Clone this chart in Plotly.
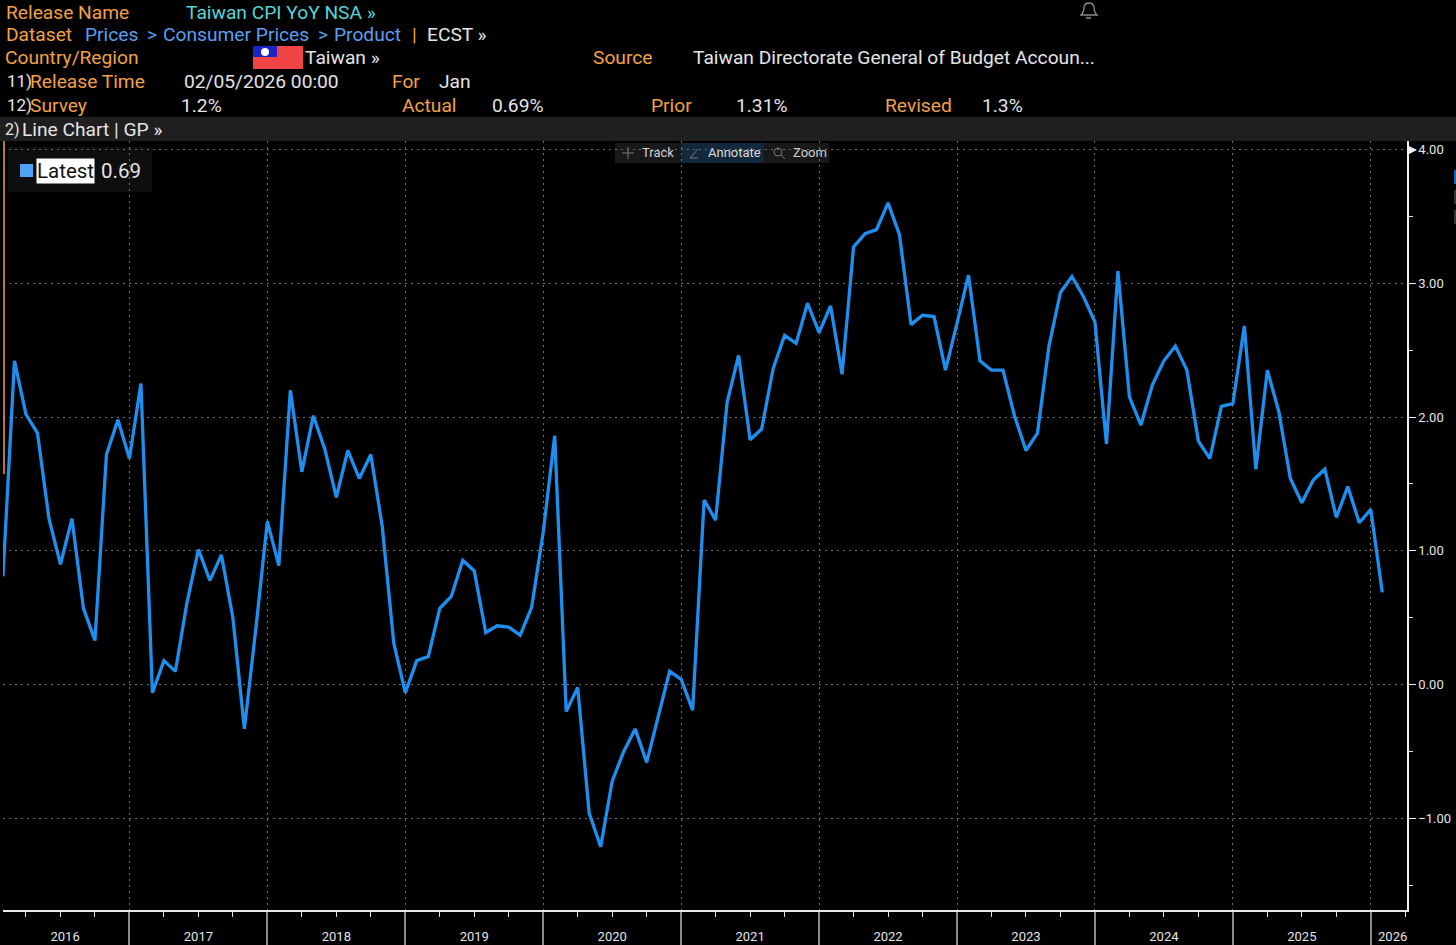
import plotly.graph_objects as go

W, H = 1456, 945
L, R, T, B = 3, 49, 141, 35

# Taiwan CPI YoY, monthly Jan 2016 - Jan 2026
cpi_2016 = [0.81, 2.42, 2.02, 1.88, 1.24, 0.90, 1.24, 0.57, 0.33, 1.72, 1.98, 1.69]
cpi_2017 = [2.25, -0.06, 0.18, 0.10, 0.61, 1.01, 0.78, 0.97, 0.50, -0.33, 0.42, 1.22]
cpi_2018 = [0.89, 2.20, 1.59, 2.01, 1.76, 1.40, 1.75, 1.54, 1.72, 1.18, 0.31, -0.06]
cpi_2019 = [0.18, 0.21, 0.57, 0.66, 0.93, 0.85, 0.39, 0.44, 0.43, 0.37, 0.58, 1.14]
cpi_2020 = [1.86, -0.20, -0.02, -0.96, -1.21, -0.72, -0.50, -0.33, -0.58, -0.24, 0.10, 0.04]
cpi_2021 = [-0.19, 1.38, 1.23, 2.11, 2.46, 1.83, 1.91, 2.36, 2.61, 2.55, 2.85, 2.63]
cpi_2022 = [2.83, 2.32, 3.27, 3.37, 3.40, 3.60, 3.36, 2.69, 2.76, 2.75, 2.35, 2.70]
cpi_2023 = [3.06, 2.42, 2.35, 2.35, 2.01, 1.75, 1.88, 2.53, 2.93, 3.05, 2.90, 2.71]
cpi_2024 = [1.80, 3.09, 2.15, 1.94, 2.24, 2.42, 2.53, 2.35, 1.82, 1.69, 2.08, 2.10]
cpi_2025 = [2.68, 1.61, 2.35, 2.04, 1.54, 1.36, 1.53, 1.61, 1.25, 1.48, 1.21, 1.31]
cpi_2026 = [0.69]
cpi = cpi_2016 + cpi_2017 + cpi_2018 + cpi_2019 + cpi_2020 + cpi_2021 + cpi_2022 + cpi_2023 + cpi_2024 + cpi_2025 + cpi_2026
months = list(range(len(cpi)))

year_labels = ["2016", "2017", "2018", "2019", "2020", "2021", "2022", "2023", "2024", "2025", "2026"]
year_centres = [5.4, 17, 29, 41, 53, 65, 77, 89, 101, 113, 120.9]
year_breaks = [11, 23, 35, 47, 59, 71, 83, 95, 107, 119]
quarter_ticks = [2, 5, 8, 14, 17, 20, 26, 29, 32, 38, 41, 44, 50, 53, 56, 62, 65, 68, 74, 77, 80,
                 86, 89, 92, 98, 101, 104, 110, 113, 116, 122]

ORANGE = "#f2a045"
WHITE = "#e4e4e4"
BLUE = "#5b9ff0"
TEAL = "#55d4d8"
LINE = "#1f8fef"
GRID = "#6e6e6e"
FONT = "Roboto"


def px(x):
    return (x - L) / (W - L - R)


def py(y):
    return 1 - (y - T) / (H - T - B)


def label(x, y, s, color=WHITE, size=19.2, **kw):
    # annotations sit about 2px right of the x given
    return dict(x=px(x - 2), y=py(y), xref="paper", yref="paper", text=s, showarrow=False, xanchor="left",
                yanchor="middle", font=dict(family=FONT, size=size, color=color), **kw)


def box(x0, y0, x1, y1, color):
    return dict(type="rect", xref="paper", yref="paper", x0=px(x0), y0=py(y0), x1=px(x1), y1=py(y1),
                fillcolor=color, line_width=0, layer="below")


def seg(x0, y0, x1, y1, color, width=1):
    return dict(type="line", xref="paper", yref="paper", x0=px(x0), y0=py(y0), x1=px(x1), y1=py(y1),
                line=dict(color=color, width=width))


def pt(x, y):
    return "%f,%f" % (px(x), py(y))


fig = go.Figure()
fig.add_trace(go.Scatter(x=months, y=cpi, mode="lines", name="Latest", line=dict(color=LINE, width=3.3),
                         hoverinfo="skip"))
# only there so the year axis gets drawn
fig.add_trace(go.Scatter(x=year_centres, y=[None] * len(year_centres), xaxis="x2", mode="lines",
                         showlegend=False, hoverinfo="skip"))

notes = [
    label(6, 12.5, "Release Name", ORANGE),
    label(186, 12.5, "Taiwan CPI YoY NSA »", TEAL),
    label(6, 34, "Dataset", ORANGE),
    label(85, 34, "Prices", BLUE),
    label(147, 34, "&gt;", BLUE),
    label(163, 34, "Consumer Prices", BLUE),
    label(318, 34, "&gt;", BLUE),
    label(334, 34, "Product", BLUE),
    label(412, 34, "|", ORANGE),
    label(427, 34, "ECST »"),
    label(5, 57, "Country/Region", ORANGE),
    label(305, 57, "Taiwan »"),
    label(593, 57, "Source", ORANGE),
    label(693, 57, "Taiwan Directorate General of Budget Accoun..."),
    label(7, 81, "11)", size=17),
    label(30, 81, "Release Time", ORANGE),
    label(184, 81, "02/05/2026 00:00"),
    label(392, 81, "For", ORANGE),
    label(439, 81, "Jan"),
    label(7, 105.5, "12)", size=17),
    label(30, 105.5, "Survey", ORANGE),
    label(181, 105.5, "1.2%"),
    label(402, 105.5, "Actual", ORANGE),
    label(492, 105.5, "0.69%"),
    label(651, 105.5, "Prior", ORANGE),
    label(736, 105.5, "1.31%"),
    label(885, 105.5, "Revised", ORANGE),
    label(982, 105.5, "1.3%"),
    label(5, 129, "2)", size=16),
    label(22, 129, "Line Chart | GP »"),
    label(38, 171, "Latest", "#111111", 20.5, bgcolor="#ffffff", borderpad=0),
    label(101, 171, "0.69", WHITE, 20.5),
    label(642, 153, "Track", "#cfcfcf", 13),
    label(708, 153, "Annotate", "#dddddd", 13),
    label(793, 153, "Zoom", "#cfcfcf", 13),
]

bell = "M " + pt(1081, 15) + " Q " + pt(1084, 12) + " " + pt(1084, 7) + " Q " + pt(1085, 3) + " " + pt(1089, 3) \
    + " Q " + pt(1093, 3) + " " + pt(1094, 7) + " Q " + pt(1094, 12) + " " + pt(1097, 15) + " Z"
arrow = "M " + pt(1407, 145) + " L " + pt(1417, 150) + " L " + pt(1407, 155) + " Z"

shapes = [
    box(0, 117, W, 141, "#1f1f1f"),
    box(8, 147, 152, 192, "#0e0e0e"),
    box(615, 143, 829, 163, "#181818"),
    box(682, 143, 764, 163, "#12283c"),
    box(20, 164, 33, 177, "#4fa3f5"),
    # flag
    box(253, 46, 303, 69, "#f04444"),
    box(253, 46, 277, 57, "#1c24c8"),
    dict(type="circle", xref="paper", yref="paper", x0=px(261), y0=py(48), x1=px(269), y1=py(56),
         fillcolor="#ffffff", line_width=0),
    # left marker and right edge bits
    seg(4, 141, 4, 474, ORANGE, 1.5),
    box(1454, 170, 1456, 184, "#1d5fb0"),
    box(1454, 190, 1456, 204, "#333333"),
    box(1454, 210, 1456, 224, "#333333"),
    # toolbar icons
    seg(622, 153, 634, 153, "#777777"),
    seg(628, 147, 628, 159, "#777777"),
    seg(690, 158, 698, 149, "#777777"),
    seg(690, 158, 698, 158, "#777777"),
    dict(type="circle", xref="paper", yref="paper", x0=px(774), y0=py(148), x1=px(782), y1=py(156),
         line=dict(color="#777777", width=1)),
    seg(781, 155, 785, 159, "#777777"),
    # bell
    dict(type="path", xref="paper", yref="paper", path=bell, line=dict(color="#8a8a8a", width=1.3)),
    seg(1086, 18, 1091, 18, "#8a8a8a", 1.5),
    dict(type="path", xref="paper", yref="paper", path=arrow, fillcolor="#f0f0f0", line_width=0),
]

fig.update_layout(
    width=W, height=H,
    margin=dict(l=L, r=R, t=T, b=B, autoexpand=False),
    paper_bgcolor="#000000", plot_bgcolor="#000000",
    showlegend=False,
    font=dict(family=FONT, color=WHITE),
    annotations=notes,
    shapes=shapes,
    xaxis=dict(
        range=[0, 122.15], tickmode="array", tickvals=year_breaks, ticktext=[""] * len(year_breaks),
        showgrid=True, gridcolor=GRID, griddash="2px,4px", gridwidth=1, zeroline=False,
        showline=True, linecolor="#e8e8e8", linewidth=1.5, automargin=False,
        ticks="outside", ticklen=35, tickcolor="#8a8a8a", tickwidth=1.5,
        minor=dict(tickmode="array", tickvals=quarter_ticks, ticks="outside", ticklen=5,
                   tickcolor="#e0e0e0", tickwidth=1, showgrid=False),
    ),
    xaxis2=dict(
        range=[0, 122.15], overlaying="x", anchor="y", side="bottom", showgrid=False, zeroline=False,
        tickmode="array", tickvals=year_centres, ticktext=year_labels, automargin=False,
        ticks="outside", ticklen=14, tickcolor="rgba(0,0,0,0)",
        tickfont=dict(family=FONT, size=13, color=WHITE),
    ),
    yaxis=dict(
        range=[-1.683, 4.062], side="right", tickmode="array", tickvals=[-1, 0, 1, 2, 3, 4],
        tickformat=".2f", showgrid=True, gridcolor=GRID, griddash="2px,4px", gridwidth=1, zeroline=False,
        showline=True, linecolor="#f0f0f0", linewidth=1.5, automargin=False,
        ticks="outside", ticklen=7, tickcolor="#f0f0f0", tickwidth=1,
        tickfont=dict(family=FONT, size=13, color=WHITE),
        minor=dict(tickmode="array", tickvals=[-1.5, -0.5, 0.5, 1.5, 2.5, 3.5], ticks="outside", ticklen=4,
                   tickcolor="#e0e0e0", tickwidth=1, showgrid=False),
    ),
)

# plotly's page keeps the browser's 8px body margin otherwise
fig.write_html("out.html", config=dict(displayModeBar=False),
               post_script="document.body.style.margin='0';document.body.style.background='#000';")
